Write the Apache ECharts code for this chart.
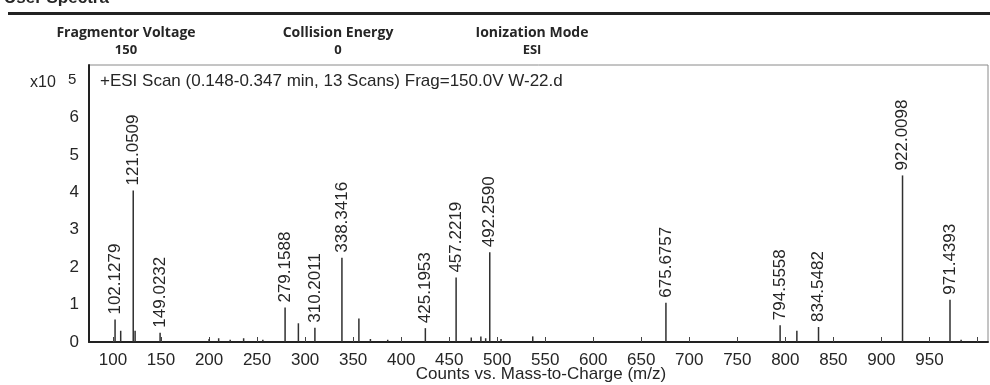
<!DOCTYPE html>
<html><head><meta charset="utf-8">
<script src="https://cdn.jsdelivr.net/npm/echarts@6/dist/echarts.min.js"></script>
<style>html,body{margin:0;padding:0;background:#fff}#c{width:990px;height:385px}</style>
</head><body><div id="c"></div>
<script>
// Labeled peaks (m/z) and their counts (x10^5)
const peakMz = [102.1279, 121.0509, 149.0232, 279.1588, 310.2011, 338.3416, 425.1953, 457.2219, 492.2590, 675.6757, 794.5558, 834.5482, 922.0098, 971.4393];
const peakLabels = ['102.1279', '121.0509', '149.0232', '279.1588', '310.2011', '338.3416', '425.1953', '457.2219', '492.2590', '675.6757', '794.5558', '834.5482', '922.0098', '971.4393'];
const peakCounts = [0.6, 4.05, 0.25, 0.92, 0.38, 2.25, 0.37, 1.72, 2.4, 1.05, 0.45, 0.4, 4.45, 1.13];
// Unlabeled minor peaks
const minorMz = [108, 123, 200, 210, 222, 236, 256, 293, 356, 368, 386, 473, 483, 488, 504, 537, 812, 983];
const minorCounts = [0.3, 0.3, 0.08, 0.1, 0.06, 0.1, 0.06, 0.5, 0.63, 0.08, 0.06, 0.12, 0.15, 0.1, 0.08, 0.15, 0.3, 0.06];
// Axis ticks
const xTickValues = [100, 150, 200, 250, 300, 350, 400, 450, 500, 550, 600, 650, 700, 750, 800, 850, 900, 950, 1000];
const xLabelValues = [100, 150, 200, 250, 300, 350, 400, 450, 500, 550, 600, 650, 700, 750, 800, 850, 900, 950];
const yLabelValues = [0, 1, 2, 3, 4, 5, 6];
// Header info
const headerNames = ['Fragmentor Voltage', 'Collision Energy', 'Ionization Mode'];
const headerValues = ['150', '0', 'ESI'];
const headerCenters = [126, 338, 532];

const FONT = 'Liberation Sans, Arial, sans-serif';
const INK = '#262626';

function renderPeaks(labels) {
  return function (params, api) {
    const x = api.value(0), y = api.value(1);
    const p0 = api.coord([x, 0]), p1 = api.coord([x, y]);
    const children = [{
      type: 'line',
      shape: { x1: p0[0], y1: p0[1], x2: p1[0], y2: p1[1] },
      style: { stroke: '#303030', lineWidth: 1.5 }
    }];
    if (labels) {
      children.push({
        type: 'text', x: p1[0], y: p1[1] - 5, rotation: Math.PI / 2,
        style: { text: labels[params.dataIndex], align: 'left', verticalAlign: 'middle',
                 fontSize: 17, fill: INK, fontFamily: FONT }
      });
    }
    return { type: 'group', children: children };
  };
}

const graphics = [
  { type: 'text', left: 4, top: -10, style: { text: 'User Spectra', fontSize: 17, fontWeight: 'bold', fill: INK, fontFamily: FONT } },
  { type: 'rect', shape: { x: 8, y: 12, width: 982, height: 3 }, style: { fill: '#222' } }
];
headerNames.forEach(function (n, i) {
  graphics.push({ type: 'text', x: headerCenters[i], y: 33, style: { text: n, align: 'center', verticalAlign: 'middle', fontSize: 14, fontWeight: 'bold', fill: INK, fontFamily: 'Open Sans, sans-serif' } });
  graphics.push({ type: 'text', x: headerCenters[i], y: 50, style: { text: headerValues[i], align: 'center', verticalAlign: 'middle', fontSize: 13, fontWeight: 'bold', fill: INK, fontFamily: 'Open Sans, sans-serif' } });
});
graphics.push(
  { type: 'text', x: 100, y: 81, style: { text: '+ESI Scan (0.148-0.347 min, 13 Scans) Frag=150.0V W-22.d', align: 'left', verticalAlign: 'middle', fontSize: 17, fill: INK, fontFamily: FONT } },
  { type: 'text', x: 30, y: 83, style: { text: 'x10', align: 'left', verticalAlign: 'middle', fontSize: 16, fill: INK, fontFamily: FONT } },
  { type: 'text', x: 68, y: 80, style: { text: '5', align: 'left', verticalAlign: 'middle', fontSize: 15, fill: INK, fontFamily: FONT } },
  { type: 'text', x: 541, y: 374, style: { text: 'Counts vs. Mass-to-Charge (m/z)', align: 'center', verticalAlign: 'middle', fontSize: 17, fill: INK, fontFamily: FONT } }
);

const chart = echarts.init(document.getElementById('c'), null, { renderer: 'canvas' });
chart.setOption({
  animation: false,
  backgroundColor: '#fff',
  grid: { left: 89, right: 2, top: 65, bottom: 43, show: true, borderColor: '#8a8a8a', borderWidth: 1, backgroundColor: 'transparent' },
  xAxis: {
    type: 'value', min: 75, max: 1011,
    axisLine: { show: true, onZero: false, lineStyle: { color: '#222', width: 2 } },
    axisTick: { show: true, inside: true, length: 5, customValues: xTickValues, lineStyle: { color: '#444' } },
    axisLabel: { show: true, customValues: xLabelValues, fontSize: 17, color: INK, fontFamily: FONT, margin: 10 },
    splitLine: { show: false }
  },
  yAxis: {
    type: 'value', min: 0, max: 7.4,
    axisLine: { show: true, lineStyle: { color: '#222', width: 2 } },
    axisTick: { show: false },
    axisLabel: { show: true, customValues: yLabelValues, fontSize: 17, color: INK, fontFamily: FONT, margin: 10 },
    splitLine: { show: false }
  },
  graphic: graphics,
  series: [
    { type: 'custom', renderItem: renderPeaks(null), data: minorMz.map(function (m, i) { return [m, minorCounts[i]]; }), clip: false },
    { type: 'custom', renderItem: renderPeaks(peakLabels), data: peakMz.map(function (m, i) { return [m, peakCounts[i]]; }), clip: false }
  ]
});
</script>
</body></html>
